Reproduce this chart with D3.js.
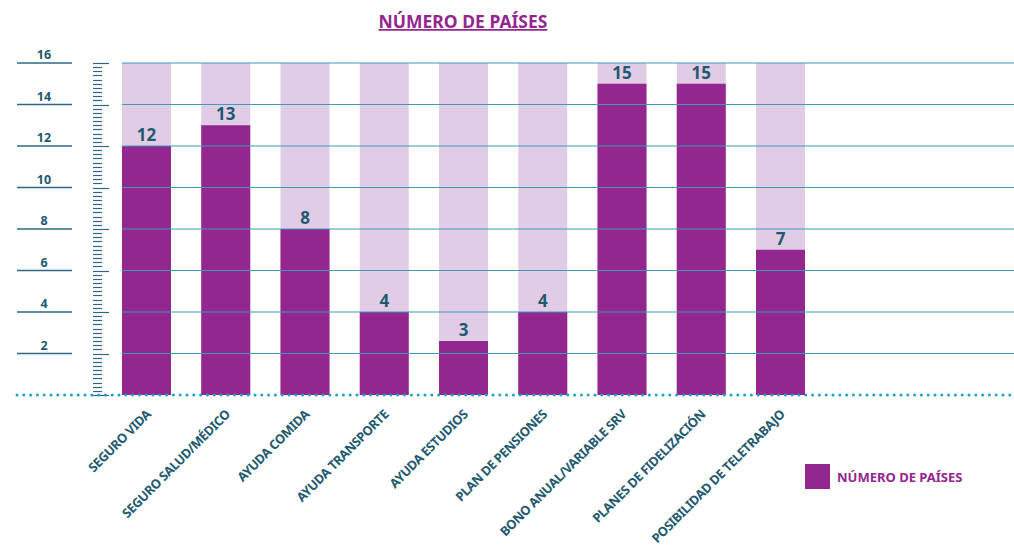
<!DOCTYPE html>
<html>
<head>
<meta charset="utf-8">
<script src="https://cdn.jsdelivr.net/npm/d3@7"></script>
<style>
  body { margin: 0; background: #fff; }
  svg { display: block; font-family: "Noto Sans", "Open Sans", sans-serif; }
  .grid line { stroke: #3d9bb8; stroke-width: 1.2; }
  .ylab text { fill: #1f5a70; font-weight: 700; font-size: 12.5px; }
  .ylab line { stroke: #2c6882; stroke-width: 1.5; }
  .minor line { stroke: #2c6882; stroke-width: 1.2; }
  .xlab text { fill: #1f5a70; font-weight: 700; font-size: 12.8px; letter-spacing: -0.4px; }
  .val { fill: #1f5a70; font-weight: 700; font-size: 17px; }
</style>
</head>
<body>
<div id="chart"></div>
<script>
var categories = ["SEGURO VIDA", "SEGURO SALUD/MÉDICO", "AYUDA COMIDA", "AYUDA TRANSPORTE",
  "AYUDA ESTUDIOS", "PLAN DE PENSIONES", "BONO ANUAL/VARIABLE SRV", "PLANES DE FIDELIZACIÓN",
  "POSIBILIDAD DE TELETRABAJO"];
var values = [12, 13, 8, 4, 2.6, 4, 15, 15, 7];
var valueLabels = ["12", "13", "8", "4", "3", "4", "15", "15", "7"];
var maxValue = 16;
var yTicks = [2, 4, 6, 8, 10, 12, 14, 16];
var seriesName = "NÚMERO DE PAÍSES";

var W = 1014, H = 547;
var purple = "#93268f", lavender = "#e1cce6";

var svg = d3.select("#chart").append("svg")
  .attr("width", W).attr("height", H);

var y = d3.scaleLinear().domain([0, maxValue]).range([395, 63]);
var x = d3.scaleBand().domain(categories).range([122, 805]).paddingInner(0.3817).paddingOuter(0);

// title
svg.append("text")
  .attr("x", 463).attr("y", 28)
  .attr("text-anchor", "middle")
  .attr("fill", purple)
  .style("font-size", "17.5px").style("font-weight", 700)
  .style("text-decoration", "underline")
  .text(seriesName);

// background bars
svg.append("g").selectAll("rect").data(categories).enter().append("rect")
  .attr("x", function(d) { return x(d); })
  .attr("y", y(maxValue))
  .attr("width", x.bandwidth())
  .attr("height", y(0) - y(maxValue))
  .attr("fill", lavender);

// value bars
svg.append("g").selectAll("rect").data(values).enter().append("rect")
  .attr("x", function(d, i) { return x(categories[i]); })
  .attr("y", function(d) { return y(d); })
  .attr("width", x.bandwidth())
  .attr("height", function(d) { return y(0) - y(d); })
  .attr("fill", purple);

// grid lines
svg.append("g").attr("class", "grid").selectAll("line").data(yTicks).enter().append("line")
  .attr("x1", 122).attr("x2", W)
  .attr("y1", function(d) { return y(d); })
  .attr("y2", function(d) { return y(d); });

// left labels with short lines
var yl = svg.append("g").attr("class", "ylab").selectAll("g").data(yTicks).enter().append("g")
  .attr("transform", function(d) { return "translate(0," + y(d) + ")"; });
yl.append("line").attr("x1", 17).attr("x2", 72);
yl.append("text").attr("x", 44).attr("y", -4).attr("text-anchor", "middle")
  .text(function(d) { return d; });

// minor tick ruler
var minor = d3.range(0, maxValue + 0.001, 0.2);
svg.append("g").attr("class", "minor").selectAll("line").data(minor).enter().append("line")
  .attr("x1", 93)
  .attr("x2", function(d) { return Math.abs(d / 2 - Math.round(d / 2)) < 0.01 ? 109 : 102; })
  .attr("y1", function(d) { return Math.round(y(d)) + 0.5; })
  .attr("y2", function(d) { return Math.round(y(d)) + 0.5; });

// dotted baseline
svg.append("line")
  .attr("x1", 17).attr("x2", W)
  .attr("y1", y(0)).attr("y2", y(0))
  .attr("stroke", "#1ba3c0").attr("stroke-width", 3)
  .attr("stroke-linecap", "round")
  .attr("stroke-dasharray", "0,6.8");

// value labels
svg.append("g").selectAll("text").data(values).enter().append("text")
  .attr("class", "val")
  .attr("x", function(d, i) { return x(categories[i]) + x.bandwidth() / 2; })
  .attr("y", function(d) { return y(d) - 5; })
  .attr("text-anchor", "middle")
  .text(function(d, i) { return valueLabels[i]; });

// x labels
svg.append("g").attr("class", "xlab").selectAll("text").data(categories).enter().append("text")
  .attr("transform", function(d) {
    return "translate(" + (x(d) + x.bandwidth() / 2 + 2) + ",412) rotate(-45)";
  })
  .attr("text-anchor", "end")
  .attr("dy", "0.35em")
  .text(function(d) { return d; });

// legend
svg.append("rect").attr("x", 805).attr("y", 464).attr("width", 25).attr("height", 25).attr("fill", purple);
svg.append("text").attr("x", 837).attr("y", 477).attr("dy", "0.35em")
  .attr("fill", purple).style("font-size", "13px").style("font-weight", 700)
  .text(seriesName);
</script>
</body>
</html>
